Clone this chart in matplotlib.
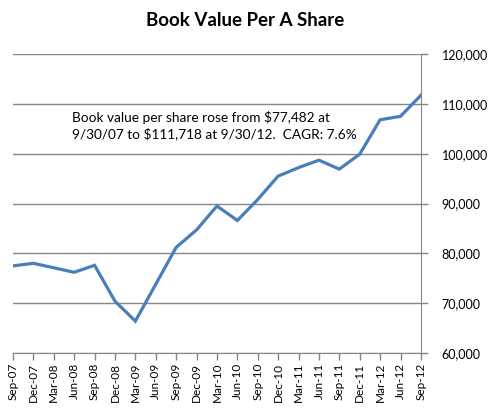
import matplotlib
matplotlib.use("Agg")
import matplotlib.pyplot as plt
from matplotlib.ticker import FuncFormatter

plt.rcParams['font.family'] = ['Lato', 'DejaVu Sans']

quarters = ['Sep-07', 'Dec-07', 'Mar-08', 'Jun-08', 'Sep-08', 'Dec-08', 'Mar-09',
            'Jun-09', 'Sep-09', 'Dec-09', 'Mar-10', 'Jun-10', 'Sep-10', 'Dec-10',
            'Mar-11', 'Jun-11', 'Sep-11', 'Dec-11', 'Mar-12', 'Jun-12', 'Sep-12']
book_value = [77482, 78000, 77100, 76200, 77600, 70400, 66400,
              73800, 81200, 84700, 89500, 86600, 90800, 95500,
              97200, 98700, 96900, 99900, 106800, 107500, 111718]
y_ticks = [60000, 70000, 80000, 90000, 100000, 110000, 120000]

fig = plt.figure(figsize=(4.9, 4.08), dpi=100)
ax = fig.add_axes([0.0265, 0.1348, 0.8325, 0.7328])

x = list(range(len(quarters)))
ax.plot(x, book_value, color='#4A7EBB', lw=2.3, solid_joinstyle='miter', zorder=3)

ax.set_xlim(0, len(quarters) - 1)
ax.set_ylim(60000, 120000)
ax.set_yticks(y_ticks)
ax.yaxis.set_major_formatter(FuncFormatter(lambda v, p: f'{int(v):,}'))
ax.yaxis.tick_right()
ax.set_xticks(x)
ax.set_xticklabels(quarters, rotation=90, fontsize=8.5)

ax.grid(axis='y', color='#868686', lw=1)
for s in ['top', 'left']:
    ax.spines[s].set_visible(False)
ax.spines['right'].set_color('#868686')
ax.spines['bottom'].set_color('#868686')
ax.tick_params(axis='both', colors='#868686', labelcolor='black', length=5, width=1)
ax.tick_params(axis='y', labelsize=9, pad=10)
ax.tick_params(axis='x', pad=2)

ax.text(0.145, 0.81, 'Book value per share rose from $77,482 at\n9/30/07 to $111,718 at 9/30/12.  CAGR: 7.6%',
        transform=ax.transAxes, va='top', ha='left', fontsize=9.8, linespacing=1.3)

fig.text(0.5, 0.95, 'Book Value Per A Share', ha='center', va='center',
         fontsize=13.5, fontweight='bold')

fig.savefig('out.png', dpi=100)
